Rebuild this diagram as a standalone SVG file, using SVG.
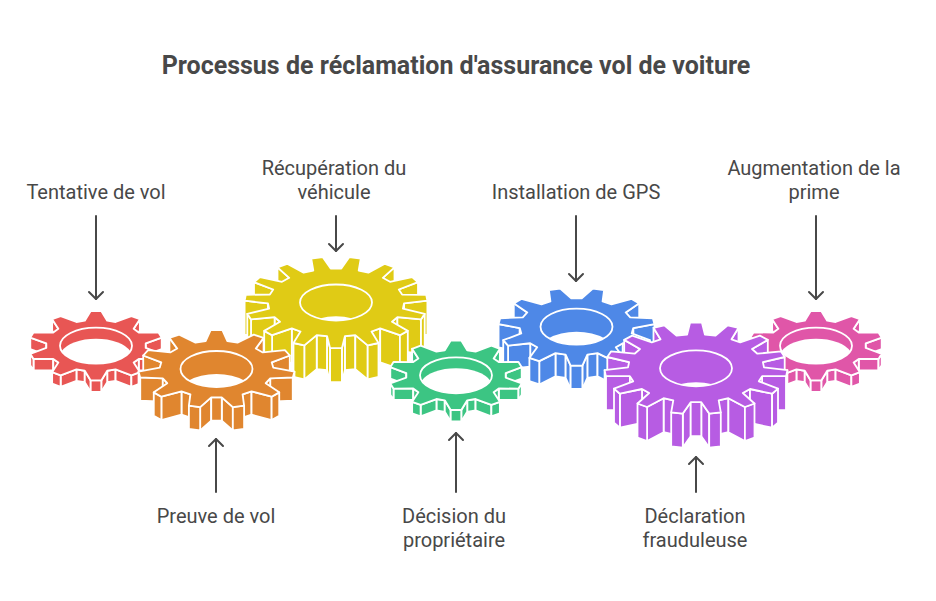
<svg xmlns="http://www.w3.org/2000/svg" xmlns:xlink="http://www.w3.org/1999/xlink" width="936" height="601" viewBox="0 0 936 601">
<style>
.e{stroke:#fff;stroke-width:1.8;stroke-linejoin:round}
.w{fill:#fff;stroke:none}
.t{font-family:Roboto,"Liberation Sans",sans-serif;font-size:20px;fill:#484848;text-anchor:middle}
.h{font-family:Roboto,"Liberation Sans",sans-serif;font-size:25px;font-weight:700;fill:#484848;text-anchor:middle}
.c{fill:none;stroke:#484848;stroke-width:2;stroke-linecap:round;marker-end:url(#a)}
</style>
<defs>
<marker id="a" viewBox="-9 -9 11 18" refX="0" refY="0" markerWidth="11" markerHeight="18" markerUnits="userSpaceOnUse" orient="auto"><path d="M-7 -7L0 0L-7 7" fill="none" stroke="#484848" stroke-width="2" stroke-linecap="round" stroke-linejoin="round"/></marker>
<g id="w10" class="e">
<path d="M42.2 -25.5L36.2 -16.2V-5.2L42.2 -14.5z"/><path d="M63.2 -7.8L47.8 -2.2V8.8L63.2 3.2z"/><path d="M60.1 12.8L41.1 12.7V23.7L60.1 23.8z"/><path d="M63.2 7.8L60.1 12.8V23.8L63.2 18.8z"/><path d="M41.1 12.7L36.2 16.2V27.2L41.1 23.7z"/><path d="M18.8 22.8L10.8 24.1V35.1L18.8 33.8z"/><path d="M34 28.5L18.8 22.8V33.8L34 39.5z"/><path d="M42.2 25.5L34 28.5V39.5L42.2 36.5z"/><path d="M10.8 24.1L5.1 33.4V44.4L10.8 35.1z"/>
</g>
<g id="g10">
<g transform="scale(1.04)">
<use href="#w10"/><use href="#w10" transform="scale(-1,1)"/>
<path class="e" d="M5.1 33.4L-5.1 33.4V44.4L5.1 44.4z"/>
<polygon class="e" points="5.1,-33.4 10.8,-24.1 18.8,-22.8 34,-28.5 42.2,-25.5 36.2,-16.2 41.1,-12.7 60.1,-12.8 63.2,-7.8 47.8,-2.2 47.8,2.2 63.2,7.8 60.1,12.8 41.1,12.7 36.2,16.2 42.2,25.5 34,28.5 18.8,22.8 10.8,24.1 5.1,33.4 -5.1,33.4 -10.8,24.1 -18.8,22.8 -34,28.5 -42.2,25.5 -36.2,16.2 -41.1,12.7 -60.1,12.8 -63.2,7.8 -47.8,2.2 -47.8,-2.2 -63.2,-7.8 -60.1,-12.8 -41.1,-12.7 -36.2,-16.2 -42.2,-25.5 -34,-28.5 -18.8,-22.8 -10.8,-24.1 -5.1,-33.4"/>
</g>
<ellipse class="e" rx="36" ry="18"/>
<path class="w" d="M-34.3 5.5A36 18 0 0 1 34.3 5.5A36 18 0 0 1 -34.3 5.5z"/>
</g>
<g id="w11a" class="e">
<path d="M46.4 -30.7L38.7 -20.2V2.8L46.4 -7.7z"/><path d="M72.2 -13.3L54.4 -6.6V16.4L72.2 9.7z"/><path d="M75.2 8.3L52.9 9.2V32.2L75.2 31.3z"/><path d="M76.8 2.6L75.2 8.3V31.3L76.8 25.6z"/><path d="M52.9 9.2L48.5 14V37L52.9 32.2z"/><path d="M34.5 22L25.7 24.9V47.9L34.5 45z"/><path d="M54.3 27.3L34.5 22V45L54.3 50.3z"/><path d="M61.8 23L54.3 27.3V50.3L61.8 46z"/><path d="M16.1 37.6L5.2 27.9V50.9L16.1 60.6z"/><path d="M27.2 36L16.1 37.6V60.6L27.2 59z"/>
</g>
<g id="g11a">
<g transform="scale(1.015)">
<use href="#w11a"/><use href="#w11a" transform="scale(-1,1)"/>
<path class="e" d="M5.2 27.9L-5.2 27.9V50.9L5.2 50.9z"/>
<polygon class="e" points="5.8,-38.4 10.7,-27.5 20.7,-26 36.7,-33.9 46.4,-30.7 38.7,-20.2 45.6,-16.3 67.4,-18.6 72.2,-13.3 54.4,-6.6 55.9,-1.4 76.8,2.6 75.2,8.3 52.9,9.2 48.5,14 61.8,23 54.3,27.3 34.5,22 25.7,24.9 27.2,36 16.1,37.6 5.2,27.9 -5.2,27.9 -16.1,37.6 -27.2,36 -25.7,24.9 -34.5,22 -54.3,27.3 -61.8,23 -48.5,14 -52.9,9.2 -75.2,8.3 -76.8,2.6 -55.9,-1.4 -54.4,-6.6 -72.2,-13.3 -67.4,-18.6 -45.6,-16.3 -38.7,-20.2 -46.4,-30.7 -36.7,-33.9 -20.7,-26 -10.7,-27.5 -5.8,-38.4"/>
</g>
<ellipse class="e" rx="36" ry="18"/>
<path class="w" d="M-27.7 11.5A36 18 0 0 1 27.7 11.5A36 18 0 0 1 -27.7 11.5z"/>
</g>
<g id="w11b" class="e">
<path d="M27.2 -36L25.7 -24.9V-1.9L27.2 -13z"/><path d="M61.8 -23L48.5 -14V9L61.8 0z"/><path d="M76.8 -2.6L55.9 1.4V24.4L76.8 20.4z"/><path d="M55.9 1.4L54.4 6.6V29.6L55.9 24.4z"/><path d="M45.6 16.3L38.7 20.2V43.2L45.6 39.3z"/><path d="M67.4 18.6L45.6 16.3V39.3L67.4 41.6z"/><path d="M72.2 13.3L67.4 18.6V41.6L72.2 36.3z"/><path d="M20.7 26L10.7 27.5V50.5L20.7 49z"/><path d="M36.7 33.9L20.7 26V49L36.7 56.9z"/><path d="M46.4 30.7L36.7 33.9V56.9L46.4 53.7z"/><path d="M10.7 27.5L5.8 38.4V61.4L10.7 50.5z"/>
</g>
<g id="g11b">
<g transform="scale(1.015)">
<use href="#w11b"/><use href="#w11b" transform="scale(-1,1)"/>
<path class="e" d="M5.8 38.4L-5.8 38.4V61.4L5.8 61.4z"/>
<polygon class="e" points="5.2,-27.9 16.1,-37.6 27.2,-36 25.7,-24.9 34.5,-22 54.3,-27.3 61.8,-23 48.5,-14 52.9,-9.2 75.2,-8.3 76.8,-2.6 55.9,1.4 54.4,6.6 72.2,13.3 67.4,18.6 45.6,16.3 38.7,20.2 46.4,30.7 36.7,33.9 20.7,26 10.7,27.5 5.8,38.4 -5.8,38.4 -10.7,27.5 -20.7,26 -36.7,33.9 -46.4,30.7 -38.7,20.2 -45.6,16.3 -67.4,18.6 -72.2,13.3 -54.4,6.6 -55.9,1.4 -76.8,-2.6 -75.2,-8.3 -52.9,-9.2 -48.5,-14 -61.8,-23 -54.3,-27.3 -34.5,-22 -25.7,-24.9 -27.2,-36 -16.1,-37.6 -5.2,-27.9"/>
</g>
<ellipse class="e" rx="36" ry="18"/>
<path class="w" d="M-27.7 11.5A36 18 0 0 1 27.7 11.5A36 18 0 0 1 -27.7 11.5z"/>
</g>
<g id="w15a" class="e">
<path d="M42.5 -40.5L35.5 -29V5L42.5 -6.5z"/><path d="M71.8 -28.4L56 -19.3V14.7L71.8 5.6z"/><path d="M88.7 -11.3L66.9 -6.2V27.8L88.7 22.7z"/><path d="M90.2 7.7L66.1 7.9V41.9L90.2 41.7z"/><path d="M91.4 1.8L90.2 7.7V41.7L91.4 35.8z"/><path d="M66.1 7.9L62.8 13V47L66.1 41.9z"/><path d="M54 20.7L46.8 24.7V58.7L54 54.7z"/><path d="M76.1 25.4L54 20.7V54.7L76.1 59.4z"/><path d="M82 20.3L76.1 25.4V59.4L82 54.3z"/><path d="M32.4 29.9L22.7 32V66L32.4 63.9z"/><path d="M48.9 38.7L32.4 29.9V63.9L48.9 72.7z"/><path d="M58.5 35.2L48.9 38.7V72.7L58.5 69.2z"/><path d="M13.2 45.3L5.3 33.9V67.9L13.2 79.3z"/><path d="M24.8 44L13.2 45.3V79.3L24.8 78z"/>
</g>
<g id="g15a">
<use href="#w15a"/><use href="#w15a" transform="scale(-1,1)"/>
<path class="e" d="M5.3 33.9L-5.3 33.9V67.9L5.3 67.9z"/>
<polygon class="e" points="5.9,-45.7 8.9,-33.7 19.3,-32.6 31.7,-42.9 42.5,-40.5 35.5,-29 44.2,-25.9 63.9,-32.7 71.8,-28.4 56,-19.3 61.4,-14.6 85,-16.9 88.7,-11.3 66.9,-6.2 68,-0.9 91.4,1.8 90.2,7.7 66.1,7.9 62.8,13 82,20.3 76.1,25.4 54,20.7 46.8,24.7 58.5,35.2 48.9,38.7 32.4,29.9 22.7,32 24.8,44 13.2,45.3 5.3,33.9 -5.3,33.9 -13.2,45.3 -24.8,44 -22.7,32 -32.4,29.9 -48.9,38.7 -58.5,35.2 -46.8,24.7 -54,20.7 -76.1,25.4 -82,20.3 -62.8,13 -66.1,7.9 -90.2,7.7 -91.4,1.8 -68,-0.9 -66.9,-6.2 -88.7,-11.3 -85,-16.9 -61.4,-14.6 -56,-19.3 -71.8,-28.4 -63.9,-32.7 -44.2,-25.9 -35.5,-29 -42.5,-40.5 -31.7,-42.9 -19.3,-32.6 -8.9,-33.7 -5.9,-45.7"/>
<ellipse class="e" rx="36" ry="18"/>
<path class="w" d="M-16.5 16A36 18 0 0 1 16.5 16A36 18 0 0 1 -16.5 16z"/>
</g>
<g id="w15b" class="e">
<path d="M24.8 -44L22.7 -32V2L24.8 -10z"/><path d="M58.5 -35.2L46.8 -24.7V9.3L58.5 -1.2z"/><path d="M82 -20.3L62.8 -13V21L82 13.7z"/><path d="M91.4 -1.8L68 .9V34.9L91.4 32.2z"/><path d="M68 .9L66.9 6.2V40.2L68 34.9z"/><path d="M61.4 14.6L56 19.3V53.3L61.4 48.6z"/><path d="M85 16.9L61.4 14.6V48.6L85 50.9z"/><path d="M88.7 11.3L85 16.9V50.9L88.7 45.3z"/><path d="M44.2 25.9L35.5 29V63L44.2 59.9z"/><path d="M63.9 32.7L44.2 25.9V59.9L63.9 66.7z"/><path d="M71.8 28.4L63.9 32.7V66.7L71.8 62.4z"/><path d="M19.3 32.6L8.9 33.7V67.7L19.3 66.6z"/><path d="M31.7 42.9L19.3 32.6V66.6L31.7 76.9z"/><path d="M42.5 40.5L31.7 42.9V76.9L42.5 74.5z"/><path d="M8.9 33.7L5.9 45.7V79.7L8.9 67.7z"/>
</g>
<g id="g15b">
<use href="#w15b"/><use href="#w15b" transform="scale(-1,1)"/>
<path class="e" d="M5.9 45.7L-5.9 45.7V79.7L5.9 79.7z"/>
<polygon class="e" points="5.3,-33.9 13.2,-45.3 24.8,-44 22.7,-32 32.4,-29.9 48.9,-38.7 58.5,-35.2 46.8,-24.7 54,-20.7 76.1,-25.4 82,-20.3 62.8,-13 66.1,-7.9 90.2,-7.7 91.4,-1.8 68,.9 66.9,6.2 88.7,11.3 85,16.9 61.4,14.6 56,19.3 71.8,28.4 63.9,32.7 44.2,25.9 35.5,29 42.5,40.5 31.7,42.9 19.3,32.6 8.9,33.7 5.9,45.7 -5.9,45.7 -8.9,33.7 -19.3,32.6 -31.7,42.9 -42.5,40.5 -35.5,29 -44.2,25.9 -63.9,32.7 -71.8,28.4 -56,19.3 -61.4,14.6 -85,16.9 -88.7,11.3 -66.9,6.2 -68,.9 -91.4,-1.8 -90.2,-7.7 -66.1,-7.9 -62.8,-13 -82,-20.3 -76.1,-25.4 -54,-20.7 -46.8,-24.7 -58.5,-35.2 -48.9,-38.7 -32.4,-29.9 -22.7,-32 -24.8,-44 -13.2,-45.3 -5.3,-33.9"/>
<ellipse class="e" rx="36" ry="18"/>
<path class="w" d="M-16.5 16A36 18 0 0 1 16.5 16A36 18 0 0 1 -16.5 16z"/>
</g>
</defs>
<text class="h" x="456" y="74">Processus de réclamation d'assurance vol de voiture</text>
<g id="gear-tentative" fill="#E85654" transform="translate(96,345.7)"><use href="#g10"/></g>
<g id="gear-recuperation" fill="#E0CB15" transform="translate(336,302.5)"><use href="#g15b"/></g>
<g id="gear-gps" fill="#4E88E7" transform="translate(576.5,326.7)"><use href="#g11b"/></g>
<g id="gear-prime" fill="#E056A8" transform="translate(816,345.7)"><use href="#g10"/></g>
<g id="gear-preuve" fill="#E0862F" transform="translate(216.5,369)"><use href="#g11a"/></g>
<g id="gear-decision" fill="#3CC583" transform="translate(456,375.3)"><use href="#g10"/></g>
<g id="gear-declaration" fill="#B75CE3" transform="translate(696,368.3)"><use href="#g15a"/></g>
<g id="connectors">
<path class="c" d="M96 216V299"/>
<path class="c" d="M336 216V251"/>
<path class="c" d="M576 216V281"/>
<path class="c" d="M816 216V299"/>
<path class="c" d="M216 492V439"/>
<path class="c" d="M456 492V433"/>
<path class="c" d="M696 492V457"/>
</g>
<g id="labels">
<text class="t" x="96" y="199">Tentative de vol</text>
<text class="t" x="334" y="175">Récupération du</text>
<text class="t" x="334" y="199">véhicule</text>
<text class="t" x="576" y="199">Installation de GPS</text>
<text class="t" x="814" y="175">Augmentation de la</text>
<text class="t" x="814" y="199">prime</text>
<text class="t" x="216" y="523">Preuve de vol</text>
<text class="t" x="454" y="523">Décision du</text>
<text class="t" x="454" y="547">propriétaire</text>
<text class="t" x="695" y="523">Déclaration</text>
<text class="t" x="695" y="547">frauduleuse</text>
</g>
</svg>
